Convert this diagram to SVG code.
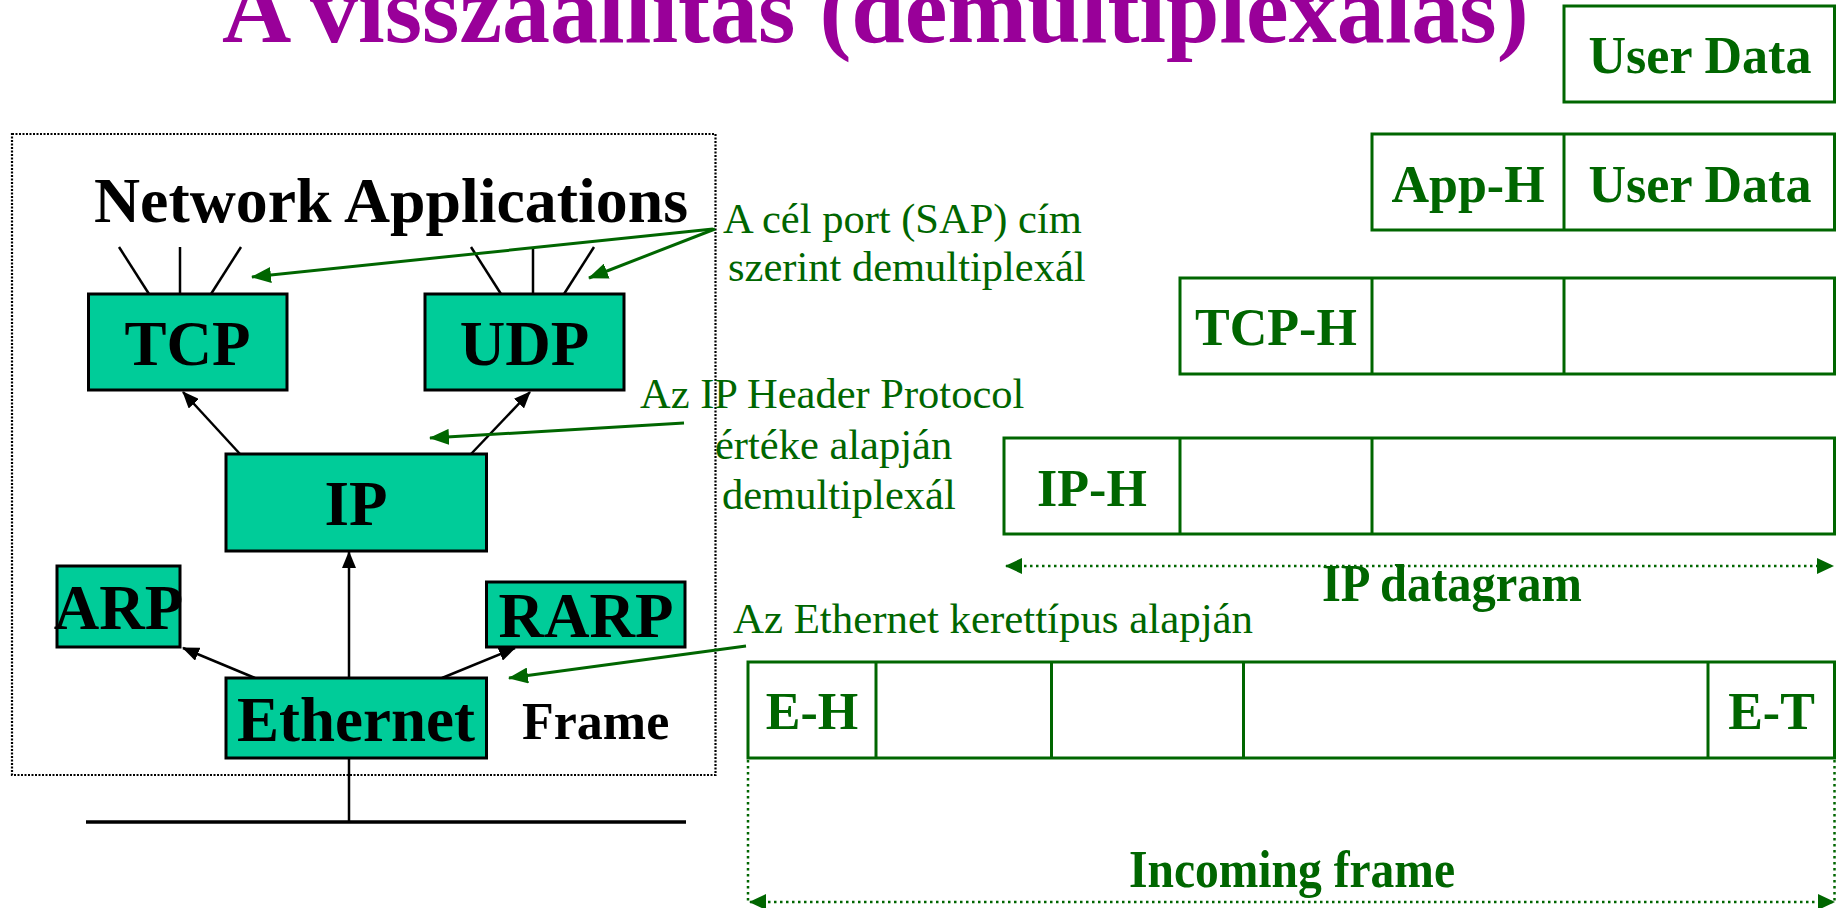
<svg xmlns="http://www.w3.org/2000/svg" width="1836" height="908" viewBox="0 0 1836 908">
<defs>
<style>
.bg{fill:#ffffff}
.title{font-family:"Liberation Serif","Times New Roman",serif;font-weight:bold;font-size:96px;fill:#990099}
.node rect{fill:#00CC99;stroke:#000;stroke-width:3}
.nlabel{font-family:"Liberation Serif","Times New Roman",serif;font-weight:bold;font-size:63px;fill:#000;text-anchor:middle}
.blk{font-family:"Liberation Serif","Times New Roman",serif;font-weight:bold;fill:#000}
.note{font-family:"Liberation Serif","Times New Roman",serif;font-size:42.5px;fill:#006600}
.cell{fill:none;stroke:#006600;stroke-width:3}
.glabel{font-family:"Liberation Serif","Times New Roman",serif;font-weight:bold;font-size:52px;fill:#006600;text-anchor:middle}
.barrow{stroke:#000;stroke-width:2.5;fill:none;marker-end:url(#ah)}
.bline{stroke:#000;stroke-width:2.5;fill:none}
.garrow{stroke:#006600;stroke-width:3;fill:none;marker-end:url(#gh)}
.gdot{stroke:#006600;stroke-width:2.5;fill:none;stroke-dasharray:2.5 3.5}
</style>
<marker id="ah" markerUnits="userSpaceOnUse" markerWidth="17" markerHeight="14" refX="16" refY="7" orient="auto">
<path d="M0,0 L17,7 L0,14 z" fill="#000"/>
</marker>
<marker id="gh" markerUnits="userSpaceOnUse" markerWidth="20" markerHeight="16" refX="19" refY="8" orient="auto">
<path d="M0,0 L20,8 L0,16 z" fill="#006600"/>
</marker>
<marker id="dh" markerUnits="userSpaceOnUse" markerWidth="17" markerHeight="16" refX="16" refY="8" orient="auto-start-reverse">
<path d="M0,0 L17,8 L0,16 z" fill="#006600"/>
</marker>
</defs>
<rect class="bg" x="0" y="0" width="1836" height="908"/>

<text id="title" class="title" x="222" y="42">A visszaállítás (demultiplexálás)</text>

<rect id="stack-frame" x="12" y="134" width="703.5" height="641" fill="none" stroke="#000" stroke-width="2.2" stroke-dasharray="2 1.5"/>

<text id="net-apps" class="blk" x="94" y="222" font-size="63" textLength="594" lengthAdjust="spacingAndGlyphs">Network Applications</text>

<g id="connectors">
<line class="bline" x1="119" y1="247" x2="149" y2="294"/>
<line class="bline" x1="180" y1="247" x2="180" y2="294"/>
<line class="bline" x1="241" y1="247" x2="211" y2="294"/>
<line class="bline" x1="471" y1="247" x2="501" y2="294"/>
<line class="bline" x1="533" y1="247" x2="533" y2="294"/>
<line class="bline" x1="594" y1="247" x2="564" y2="294"/>
<line class="barrow" x1="240" y1="454" x2="183" y2="392"/>
<line class="barrow" x1="471" y1="454" x2="530" y2="392"/>
<line class="barrow" x1="349" y1="678" x2="349" y2="552"/>
<line class="barrow" x1="255" y1="678" x2="183" y2="648"/>
<line class="barrow" x1="442" y1="678" x2="515" y2="648"/>
<line class="bline" x1="349" y1="758" x2="349" y2="822"/>
<line x1="86" y1="822" x2="686" y2="822" stroke="#000" stroke-width="3.5"/>
<line class="garrow" x1="713" y1="229" x2="252" y2="277"/>
<line class="garrow" x1="715" y1="229" x2="589" y2="278"/>
<line class="garrow" x1="684" y1="423" x2="430" y2="438"/>
<line class="garrow" x1="746" y1="646" x2="509" y2="678"/>
<line class="gdot" x1="1006" y1="566" x2="1833" y2="566" marker-start="url(#dh)" marker-end="url(#dh)"/>
<line class="gdot" x1="748" y1="760" x2="748" y2="902"/>
<line class="gdot" x1="1834.5" y1="760" x2="1834.5" y2="902"/>
<line class="gdot" x1="750" y1="902" x2="1834" y2="902" marker-start="url(#dh)" marker-end="url(#dh)"/>
</g>

<g id="tcp" class="node"><rect x="88.5" y="294" width="198.5" height="96"/><text class="nlabel" x="187.5" y="365">TCP</text></g>
<g id="udp" class="node"><rect x="425" y="294" width="199" height="96"/><text class="nlabel" x="524.5" y="365">UDP</text></g>
<g id="ip" class="node"><rect x="226" y="454" width="260.5" height="97"/><text class="nlabel" x="356" y="525">IP</text></g>
<g id="arp" class="node"><rect x="57" y="566" width="123" height="81"/><text class="nlabel" x="118.5" y="629">ARP</text></g>
<g id="rarp" class="node"><rect x="486.5" y="582" width="198.5" height="65"/><text class="nlabel" x="586" y="637">RARP</text></g>
<g id="ethernet" class="node"><rect x="226" y="678" width="260.5" height="80"/><text class="nlabel" x="356" y="741">Ethernet</text></g>

<text id="frame-label" class="blk" x="522" y="739" font-size="52">Frame</text>

<g id="note-port">
<text class="note" x="723" y="233">A cél port (SAP) cím</text>
<text class="note" x="728" y="281">szerint demultiplexál</text>
</g>
<g id="note-ip">
<text class="note" x="640" y="408">Az IP Header Protocol</text>
<text class="note" x="715" y="459">értéke alapján</text>
<text class="note" x="722" y="509">demultiplexál</text>
</g>
<g id="note-eth">
<text class="note" x="733" y="633" textLength="520" lengthAdjust="spacingAndGlyphs">Az Ethernet kerettípus alapján</text>
</g>

<g id="row-user">
<rect class="cell" x="1564" y="6" width="270.5" height="96"/>
<text class="glabel" x="1700" y="73">User Data</text>
</g>
<g id="row-app">
<rect class="cell" x="1372" y="134" width="462.5" height="96"/>
<line class="cell" x1="1564" y1="134" x2="1564" y2="230"/>
<text class="glabel" x="1468" y="202">App-H</text>
<text class="glabel" x="1700" y="202">User Data</text>
</g>
<g id="row-tcp">
<rect class="cell" x="1180" y="278" width="654.5" height="96"/>
<line class="cell" x1="1372" y1="278" x2="1372" y2="374"/>
<line class="cell" x1="1564" y1="278" x2="1564" y2="374"/>
<text class="glabel" x="1276" y="345">TCP-H</text>
</g>
<g id="row-ip">
<rect class="cell" x="1004" y="438" width="830.5" height="96"/>
<line class="cell" x1="1180" y1="438" x2="1180" y2="534"/>
<line class="cell" x1="1372" y1="438" x2="1372" y2="534"/>
<text class="glabel" x="1092" y="506">IP-H</text>
</g>
<text id="ip-datagram" class="glabel" x="1452" y="601" font-size="49" textLength="260" lengthAdjust="spacingAndGlyphs">IP datagram</text>
<g id="row-eth">
<rect class="cell" x="748" y="662" width="1086.5" height="96"/>
<line class="cell" x1="876" y1="662" x2="876" y2="758"/>
<line class="cell" x1="1051.5" y1="662" x2="1051.5" y2="758"/>
<line class="cell" x1="1243.5" y1="662" x2="1243.5" y2="758"/>
<line class="cell" x1="1708" y1="662" x2="1708" y2="758"/>
<text class="glabel" x="812" y="729">E-H</text>
<text class="glabel" x="1771.5" y="729">E-T</text>
</g>
<text id="incoming-frame" class="glabel" x="1292" y="887" font-size="48" textLength="326" lengthAdjust="spacingAndGlyphs">Incoming frame</text>
</svg>
